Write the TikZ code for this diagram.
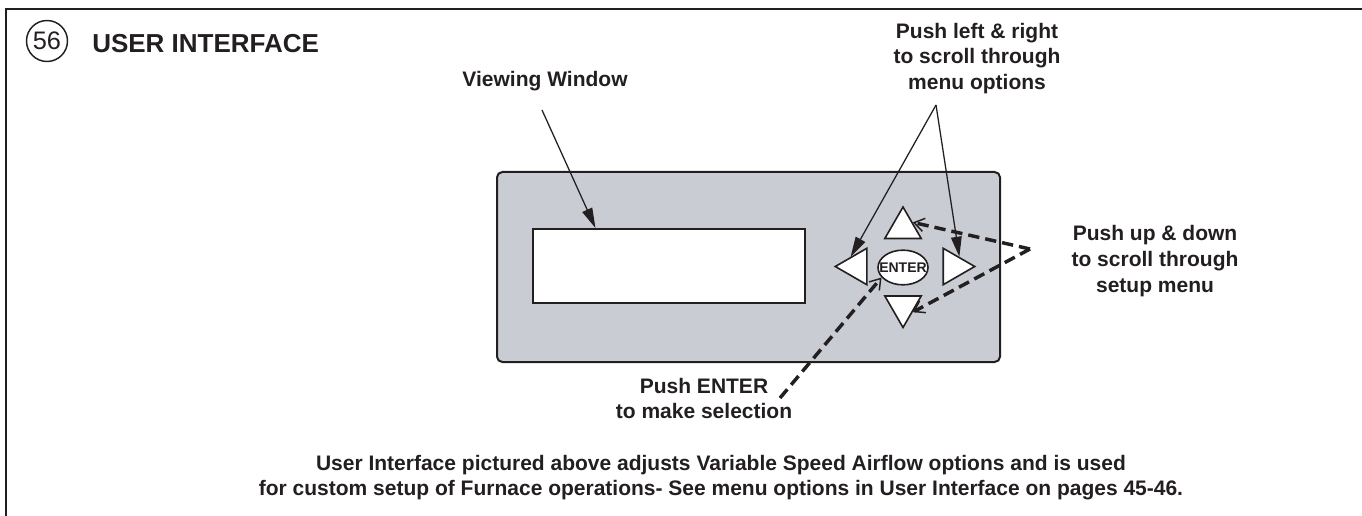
\documentclass[tikz,border=0pt]{standalone}
\usepackage{fontspec}
\setmainfont{Liberation Sans}
\usetikzlibrary{arrows.meta,shapes.geometric,calc}
\definecolor{ink}{HTML}{231F20}
\definecolor{panelgray}{HTML}{C9CCD3}
\begin{document}
\begin{tikzpicture}[x=0.75pt,y=-0.75pt,
  lbl/.style={font=\bfseries\fontsize{15.75}{19.1}\selectfont, align=center, inner sep=0pt, text=ink},
  btn/.style={draw=ink, fill=white, line width=1.2pt, inner sep=0pt, regular polygon, regular polygon sides=3, minimum size=31.5pt},
  solidarrow/.style={draw=ink, line width=0.95pt, -{Triangle[length=15pt,width=8pt]}},
  dasharrow/.style={draw=ink, line width=2.6pt, dash pattern=on 8.5pt off 4.5pt, -{Straight Barb[length=7.5pt,width=10pt,line width=1.1pt]}}
]
\useasboundingbox (0,0) rectangle (1362,516);
% frame
\draw[ink, line width=2.2pt] (6,516) -- (6,9) -- (1362,9);
% header
\node[circle, draw=ink, line width=1.1pt, minimum size=30.75pt, inner sep=0pt, text=ink, font=\fontsize{19}{19}\selectfont] (num) at (47,41) {56};
\node[anchor=base west, inner sep=0pt, text=ink, font=\bfseries\fontsize{19.5}{20}\selectfont] (title) at (92,53) {USER INTERFACE};
% panel
\node[draw=ink, fill=panelgray, line width=1.5pt, rounded corners=4pt, minimum width=377.25pt, minimum height=142.5pt, inner sep=0pt] (panel) at (748.5,267) {};
\node[draw=ink, fill=white, line width=1.5pt, minimum width=204pt, minimum height=55.5pt, inner sep=0pt] (window) at (669,266) {};
% buttons
\node[btn] (up) at (903,228) {};
\node[btn, regular polygon rotate=180] (down) at (903,306.5) {};
\node[btn, regular polygon rotate=90] (left) at (856.3,266.5) {};
\node[btn, regular polygon rotate=-90] (right) at (953.7,266.5) {};
\node[ellipse, draw=ink, fill=white, line width=1.2pt, minimum width=37.5pt, minimum height=26pt, inner sep=0pt, text=ink, font=\bfseries\fontsize{10.5}{10.5}\selectfont] (enter) at (903,267.5) {\makebox[0pt]{ENTER}};
% labels
\node[lbl, anchor=base] (vw) at (545,87) {Viewing Window};
\node[lbl, anchor=north] (lr) at (977,22.7) {Push left \& right\\to scroll through\\menu options};
\node[lbl, anchor=north, font=\bfseries\fontsize{15.75}{19.5}\selectfont] (ud) at (1155,224.7) {Push up \& down\\to scroll through\\setup menu};
\node[lbl, anchor=north, font=\bfseries\fontsize{15.75}{18.75}\selectfont] (pe) at (704,377.7) {Push ENTER\\to make selection};
\node[lbl, anchor=north, font=\bfseries\fontsize{15.75}{18.75}\selectfont] (note) at (721,454.7) {User Interface pictured above adjusts Variable Speed Airflow options and is used\\for custom setup of Furnace operations- See menu options in User Interface on pages 45-46.};
% connector free ends
\coordinate (vwtail) at (542,110);
\coordinate (lrtail) at (936,105);
\coordinate (udtail) at (1030,249);
\coordinate (petail) at (780,398);
% connectors
\draw[solidarrow] (vwtail) -- ($(window.north west)!0.2316!(window.north east)$);
\draw[solidarrow] (lrtail) -- (left.side 3);
\draw[solidarrow] (lrtail) -- (right.side 1);
\draw[dasharrow] (udtail) -- (up.side 3);
\draw[dasharrow] (udtail) -- (down.side 1);
\draw[dasharrow] (petail) -- (enter.205);
\end{tikzpicture}
\end{document}
